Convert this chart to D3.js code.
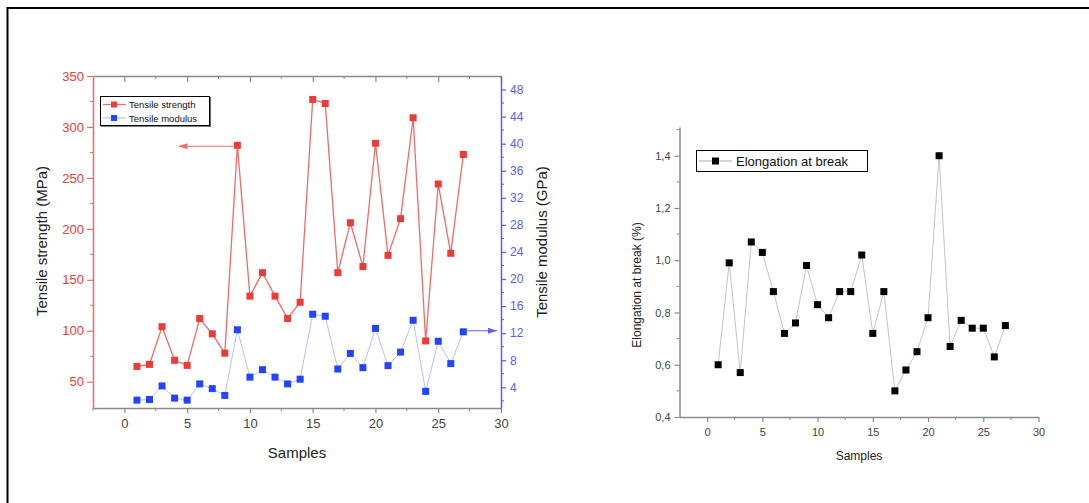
<!DOCTYPE html>
<html>
<head>
<meta charset="utf-8">
<script src="https://cdn.jsdelivr.net/npm/d3@7"></script>
<style>
  body { margin: 0; background: #fff; }
  svg { display: block; font-family: "Liberation Sans", Arial, sans-serif; }
</style>
</head>
<body>
<svg id="chart" width="1089" height="503"></svg>
<script>
// samples 1..27
const samples = d3.range(1, 28);

const tensileStrength = [65, 67, 104, 71, 66, 112, 97, 78, 282, 134, 157, 134, 112, 128, 327,
  323, 157, 206, 163, 284, 174, 210, 309, 90, 244, 176, 273];
const tensileModulus = [2.1, 2.2, 4.2, 2.4, 2.1, 4.5, 3.8, 2.8, 12.5, 5.5, 6.6, 5.5, 4.5, 5.2, 14.8,
  14.5, 6.7, 9.0, 6.9, 12.7, 7.2, 9.2, 13.9, 3.4, 10.8, 7.5, 12.2];
const elongation = [0.60, 0.99, 0.57, 1.07, 1.03, 0.88, 0.72, 0.76, 0.98, 0.83, 0.78, 0.88, 0.88, 1.02,
  0.72, 0.88, 0.50, 0.58, 0.65, 0.78, 1.40, 0.67, 0.77, 0.74, 0.74, 0.63, 0.75];

const xTicks = [0, 5, 10, 15, 20, 25, 30];
const strengthTicks = [50, 100, 150, 200, 250, 300, 350];
const modulusTicks = [4, 8, 12, 16, 20, 24, 28, 32, 36, 40, 44, 48];
const elongTicks = [0.4, 0.6, 0.8, 1.0, 1.2, 1.4];

const RED = '#ee3b36', RED_LINE = '#f26a66';
const BLUE = '#2244ff', BLUE_LINE = '#b7bfff', BLUE_AXIS = '#5a5aff';
const GREY_AXIS = '#8a8a8a';

const svg = d3.select('#chart');

// outer frame (top + left only)
svg.append('line').attr('x1', 7.5).attr('x2', 1089).attr('y1', 8).attr('y2', 8)
  .attr('stroke', '#000').attr('stroke-width', 2);
svg.append('line').attr('x1', 7.5).attr('x2', 7.5).attr('y1', 7).attr('y2', 503)
  .attr('stroke', '#000').attr('stroke-width', 2);

function styleAxis(g, color, textColor, size) {
  g.select('.domain').attr('stroke', color).attr('stroke-width', 1.5);
  g.selectAll('.tick line').attr('stroke', color).attr('stroke-width', 1.2);
  g.selectAll('.tick text').attr('fill', textColor).style('font-size', size + 'px');
}

function minorTicks(g, scale, values, orient, len, color) {
  values.forEach(v => {
    const p = scale(v);
    const l = g.append('line').attr('stroke', color).attr('stroke-width', 1);
    if (orient === 'left') l.attr('x1', 0).attr('x2', -len).attr('y1', p).attr('y2', p);
    if (orient === 'right') l.attr('x1', 0).attr('x2', len).attr('y1', p).attr('y2', p);
    if (orient === 'bottom') l.attr('x1', p).attr('x2', p).attr('y1', 0).attr('y2', len);
    if (orient === 'top') l.attr('x1', p).attr('x2', p).attr('y1', 0).attr('y2', len);
  });
}

function arrow(x1, x2, y, color) {
  svg.append('line').attr('x1', x1).attr('x2', x2).attr('y1', y).attr('y2', y)
    .attr('stroke', color).attr('stroke-width', 1);
  const dir = x2 < x1 ? 1 : -1;
  svg.append('path')
    .attr('d', `M${x2},${y} L${x2 + dir * 9},${y - 3} L${x2 + dir * 9},${y + 3} Z`)
    .attr('fill', color);
}

// ---------- left chart ----------
{
  const L = 93, R = 501, T = 76, B = 408;
  const x = d3.scaleLinear().domain([-2.5, 30]).range([L, R]);
  const y = d3.scaleLinear().domain([24.2, 350]).range([B, T]);
  const y2 = d3.scaleLinear().domain([0.94, 50]).range([B, T]);

  // top axis (ticks inward)
  const top = svg.append('g').attr('transform', `translate(0,${T})`)
    .call(d3.axisBottom(x).tickValues(xTicks).tickSize(6).tickFormat('').tickSizeOuter(0));
  styleAxis(top, GREY_AXIS, '#333', 13);
  minorTicks(top, x, [2.5, 7.5, 12.5, 17.5, 22.5, 27.5], 'top', 3, GREY_AXIS);

  const bottom = svg.append('g').attr('transform', `translate(0,${B})`)
    .call(d3.axisBottom(x).tickValues(xTicks).tickSize(5).tickPadding(6).tickSizeOuter(0));
  styleAxis(bottom, GREY_AXIS, '#444', 13);
  minorTicks(bottom, x, [-2.5, 2.5, 7.5, 12.5, 17.5, 22.5, 27.5], 'bottom', 3, GREY_AXIS);

  const left = svg.append('g').attr('transform', `translate(${L},0)`)
    .call(d3.axisLeft(y).tickValues(strengthTicks).tickSize(6).tickPadding(3).tickSizeOuter(0));
  styleAxis(left, RED_LINE, RED, 13);
  minorTicks(left, y, [75, 125, 175, 225, 275, 325], 'left', 3, RED_LINE);

  const right = svg.append('g').attr('transform', `translate(${R},0)`)
    .call(d3.axisRight(y2).tickValues(modulusTicks).tickSize(5).tickPadding(4).tickSizeOuter(0));
  styleAxis(right, BLUE_AXIS, BLUE_AXIS, 12);
  minorTicks(right, y2, d3.range(2, 50, 4), 'right', 3, BLUE_AXIS);

  // modulus series
  svg.append('path').datum(tensileModulus)
    .attr('fill', 'none').attr('stroke', BLUE_LINE).attr('stroke-width', 1)
    .attr('d', d3.line().x((d, i) => x(samples[i])).y(d => y2(d)));
  svg.append('g').selectAll('rect').data(tensileModulus).join('rect')
    .attr('x', (d, i) => x(samples[i]) - 3.5).attr('y', d => y2(d) - 3.5)
    .attr('width', 7).attr('height', 7).attr('fill', BLUE);

  // strength series
  svg.append('path').datum(tensileStrength)
    .attr('fill', 'none').attr('stroke', RED_LINE).attr('stroke-width', 1.3)
    .attr('d', d3.line().x((d, i) => x(samples[i])).y(d => y(d)));
  svg.append('g').selectAll('rect').data(tensileStrength).join('rect')
    .attr('x', (d, i) => x(samples[i]) - 3.5).attr('y', d => y(d) - 3.5)
    .attr('width', 7).attr('height', 7).attr('fill', RED);

  // arrows to the axes
  arrow(x(9) - 4, x(4.3), y(tensileStrength[8]) + 1, RED_LINE);
  arrow(x(27) + 4, R - 4, y2(tensileModulus[26]) - 1, BLUE_AXIS);

  // legend
  svg.append('rect').attr('x', 100.5).attr('y', 96.5).attr('width', 109).attr('height', 29)
    .attr('fill', '#fff').attr('stroke', '#000').attr('stroke-width', 1);
  svg.append('line').attr('x1', 210).attr('x2', 210).attr('y1', 97).attr('y2', 126.5)
    .attr('stroke', '#000').attr('stroke-width', 1.2);
  svg.append('line').attr('x1', 101).attr('x2', 210.5).attr('y1', 126).attr('y2', 126)
    .attr('stroke', '#000').attr('stroke-width', 1.2);
  [['Tensile strength', RED, RED_LINE, 104.5], ['Tensile modulus', BLUE, BLUE_LINE, 118]].forEach(([t, c, lc, yy]) => {
    svg.append('line').attr('x1', 103).attr('x2', 126).attr('y1', yy).attr('y2', yy)
      .attr('stroke', lc).attr('stroke-width', 1.2);
    svg.append('rect').attr('x', 111).attr('y', yy - 3).attr('width', 6).attr('height', 6).attr('fill', c);
    svg.append('text').attr('x', 129).attr('y', yy + 3.5).text(t)
      .style('font-size', '9.5px').attr('fill', '#111');
  });

  // titles
  svg.append('text').attr('x', (L + R) / 2).attr('y', 458).attr('text-anchor', 'middle')
    .style('font-size', '15px').attr('fill', '#222').text('Samples');
  svg.append('text').attr('transform', 'translate(47,241) rotate(-90)').attr('text-anchor', 'middle')
    .style('font-size', '15px').attr('fill', '#222').text('Tensile strength (MPa)');
  svg.append('text').attr('transform', 'translate(547,242) rotate(-90)').attr('text-anchor', 'middle')
    .style('font-size', '15px').attr('fill', '#222').text('Tensile modulus (GPa)');
}

// ---------- right chart ----------
{
  const L = 679.5, R = 1038.5, T = 127, B = 417;
  const x = d3.scaleLinear().domain([-2.5, 30]).range([L, R]);
  const y = d3.scaleLinear().domain([0.4, 1.51]).range([B, T]);
  const fmt = d => d3.format('.1f')(d).replace('.', ',');

  const bottom = svg.append('g').attr('transform', `translate(0,${B})`)
    .call(d3.axisBottom(x).tickValues(xTicks).tickSize(5).tickPadding(6).tickSizeOuter(0));
  styleAxis(bottom, GREY_AXIS, '#444', 11);
  minorTicks(bottom, x, [2.5, 7.5, 12.5, 17.5, 22.5, 27.5], 'bottom', 3, GREY_AXIS);

  const left = svg.append('g').attr('transform', `translate(${L},0)`)
    .call(d3.axisLeft(y).tickValues(elongTicks).tickFormat(fmt).tickSize(5).tickPadding(4).tickSizeOuter(0));
  styleAxis(left, GREY_AXIS, '#444', 11);
  minorTicks(left, y, [0.5, 0.7, 0.9, 1.1, 1.3, 1.5], 'left', 3, GREY_AXIS);

  svg.append('path').datum(elongation)
    .attr('fill', 'none').attr('stroke', '#c4c4c4').attr('stroke-width', 1)
    .attr('d', d3.line().x((d, i) => x(samples[i])).y(d => y(d)));
  svg.append('g').selectAll('rect').data(elongation).join('rect')
    .attr('x', (d, i) => x(samples[i]) - 3.5).attr('y', d => y(d) - 3.5)
    .attr('width', 7).attr('height', 7).attr('fill', '#000');

  // legend
  svg.append('rect').attr('x', 696.5).attr('y', 150.5).attr('width', 171).attr('height', 21)
    .attr('fill', '#fff').attr('stroke', '#000').attr('stroke-width', 1);
  svg.append('line').attr('x1', 699).attr('x2', 732).attr('y1', 161).attr('y2', 161)
    .attr('stroke', '#aaa').attr('stroke-width', 1);
  svg.append('rect').attr('x', 712).attr('y', 157.5).attr('width', 7).attr('height', 7).attr('fill', '#000');
  svg.append('text').attr('x', 736).attr('y', 166).text('Elongation at break')
    .style('font-size', '13px').attr('fill', '#111');

  svg.append('text').attr('x', (L + R) / 2).attr('y', 460).attr('text-anchor', 'middle')
    .style('font-size', '12px').attr('fill', '#222').text('Samples');
  svg.append('text').attr('transform', 'translate(641,285) rotate(-90)').attr('text-anchor', 'middle')
    .style('font-size', '12px').attr('fill', '#222').text('Elongation at break (%)');
}
</script>
</body>
</html>
